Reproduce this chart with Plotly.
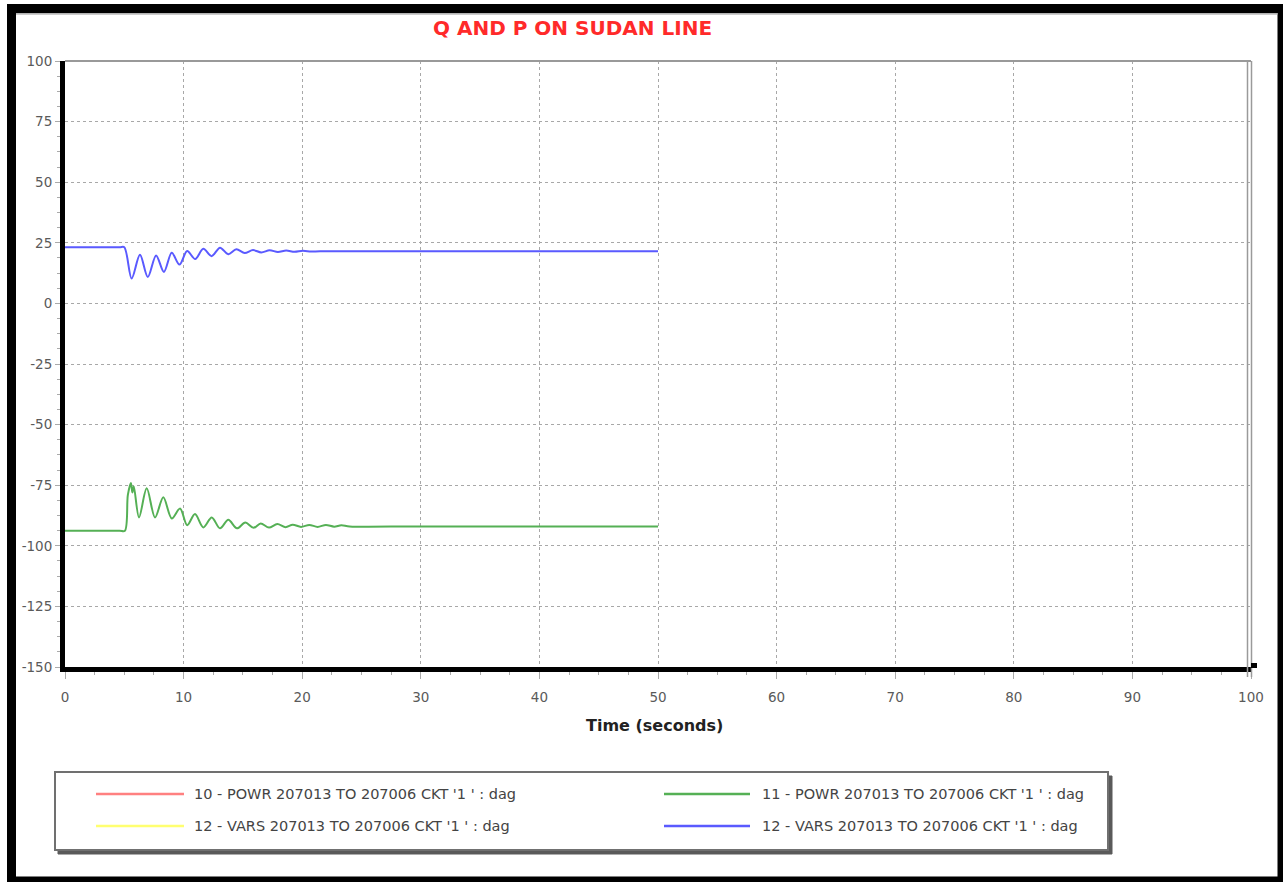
import plotly.graph_objects as go

# ---------------- data ----------------
vars_t = [0, 4.6, 5.0, 5.62, 6.32, 6.98, 7.68, 8.34, 9.0, 9.65, 10.3, 10.98, 11.66,
          12.36, 13.07, 13.76, 14.45, 15.15, 15.85, 16.55, 17.25, 17.95, 18.65,
          19.35, 20.05, 20.75, 21.5, 30, 50]
vars_v = [23.2, 23.2, 23.2, 10.3, 20.1, 10.9, 19.8, 13.0, 20.9, 16.0, 21.6, 18.3, 22.5,
          19.5, 23.0, 20.3, 22.3, 20.8, 22.0, 21.0, 21.9, 21.2, 21.8,
          21.3, 21.7, 21.4, 21.5, 21.5, 21.5]

powr_t = [0, 4.6, 5.05, 5.3, 5.56, 5.68, 5.8, 6.24, 6.89, 7.59, 8.29, 9.0, 9.7, 10.3,
          10.96, 11.66, 12.37, 13.07, 13.77, 14.5, 15.2, 15.9, 16.5, 17.2, 17.9,
          18.6, 19.2, 19.9, 20.6, 21.3, 22.0, 22.7, 23.3, 24.0, 30, 50]
powr_v = [-93.8, -93.8, -93.8, -79.0, -74.1, -78.0, -75.5, -88.3, -76.3, -88.3, -80.0,
          -88.7, -84.6, -91.5, -86.9, -92.4, -88.3, -92.8, -89.3, -92.8, -90.4,
          -92.6, -90.8, -92.5, -91.0, -92.3, -91.3, -92.2, -91.4, -92.2, -91.4,
          -92.1, -91.5, -92.0, -92.0, -92.0]

y_ticks = [100, 75, 50, 25, 0, -25, -50, -75, -100, -125, -150]
y_tick_labels = ["100", "75", "50", "25", "0", "-25", "-50", "-75", "-100", "-125", "-150"]
x_ticks = [0, 10, 20, 30, 40, 50, 60, 70, 80, 90, 100]
x_tick_labels = ["0", "10", "20", "30", "40", "50", "60", "70", "80", "90", "100"]

legend_names = ["10 - POWR 207013 TO 207006 CKT '1 ' : dag",
                "11 - POWR 207013 TO 207006 CKT '1 ' : dag",
                "12 - VARS 207013 TO 207006 CKT '1 ' : dag",
                "12 - VARS 207013 TO 207006 CKT '1 ' : dag"]
legend_colors = ["#ff8080", "#55b055", "#ffff70", "#5a5aff"]

title_text = "Q AND P ON SUDAN LINE"
x_title = "Time (seconds)"

# ---------------- layout helpers ----------------
W, H = 1283, 882
L, R, T, B = 65, 32, 61, 215
PW, PH = W - L - R, H - T - B


def xp(px):
    return (px - L) / PW


def yp(py):
    return (H - B - py) / PH


FONT = "DejaVu Sans, Liberation Sans, Arial"

fig = go.Figure()
fig.add_trace(go.Scatter(x=powr_t, y=powr_v, mode="lines",
                         line=dict(color=legend_colors[1], width=2, shape="spline", smoothing=0.9),
                         name=legend_names[1], hoverinfo="skip"))
fig.add_trace(go.Scatter(x=vars_t, y=vars_v, mode="lines",
                         line=dict(color=legend_colors[3], width=2, shape="spline", smoothing=0.9),
                         name=legend_names[3], hoverinfo="skip"))

shapes = []
# outer black frame
shapes.append(dict(type="rect", xref="paper", yref="paper",
                   x0=xp(11.5), x1=xp(1282), y0=yp(881), y1=yp(8.4),
                   line=dict(color="black", width=9), fillcolor="rgba(0,0,0,0)", layer="above"))
# thin gray line under top frame
shapes.append(dict(type="line", xref="paper", yref="paper",
                   x0=xp(16), x1=xp(1278), y0=yp(13.8), y1=yp(13.8),
                   line=dict(color="#9a9a9a", width=1.2), layer="above"))
# plot top border
shapes.append(dict(type="line", xref="paper", yref="paper",
                   x0=0, x1=1, y0=1, y1=1, line=dict(color="#999999", width=2), layer="above"))
# plot right double border
for px in (1247.5, 1251.5):
    shapes.append(dict(type="line", xref="paper", yref="paper",
                       x0=xp(px), x1=xp(px), y0=yp(677), y1=1,
                       line=dict(color="#9a9a9a", width=1.5), layer="above"))
# extension of x axis line
shapes.append(dict(type="line", xref="paper", yref="paper",
                   x0=1, x1=xp(1257), y0=yp(665.5), y1=yp(665.5),
                   line=dict(color="black", width=5), layer="above"))
# legend box shadow + box
shapes.append(dict(type="rect", xref="paper", yref="paper",
                   x0=xp(58), x1=xp(1112), y0=yp(854), y1=yp(776),
                   line=dict(color="#5a5a5a", width=1), fillcolor="#5a5a5a", layer="above"))
shapes.append(dict(type="rect", xref="paper", yref="paper",
                   x0=xp(55), x1=xp(1108), y0=yp(850), y1=yp(772),
                   line=dict(color="#707070", width=2), fillcolor="white", layer="above"))

annotations = []
leg_pos = [(96, 184, 192, 794), (664, 750, 760, 794), (96, 184, 192, 826), (664, 750, 760, 826)]
for (lx0, lx1, tx, ly), name, col in zip(leg_pos, legend_names, legend_colors):
    shapes.append(dict(type="line", xref="paper", yref="paper",
                       x0=xp(lx0), x1=xp(lx1), y0=yp(ly), y1=yp(ly),
                       line=dict(color=col, width=2.5), layer="above"))
    annotations.append(dict(xref="paper", yref="paper", x=xp(tx), y=yp(ly),
                            xanchor="left", yanchor="middle", showarrow=False,
                            text=name, font=dict(family=FONT, size=14.5, color="#444444")))

annotations.append(dict(xref="paper", yref="paper", x=xp(572.5), y=yp(28),
                        xanchor="center", yanchor="middle", showarrow=False,
                        text="<b>" + title_text + "</b>",
                        font=dict(family=FONT, size=20, color="#ff2a2a")))
annotations.append(dict(xref="paper", yref="paper", x=xp(654), y=yp(725),
                        xanchor="center", yanchor="middle", showarrow=False,
                        text="<b>" + x_title + "</b>",
                        font=dict(family=FONT, size=16, color="#222222")))

fig.update_layout(
    width=W, height=H,
    margin=dict(l=L, r=R, t=T, b=B, autoexpand=False),
    paper_bgcolor="white", plot_bgcolor="white",
    showlegend=False,
    shapes=shapes, annotations=annotations,
    xaxis=dict(range=[0, 100], tickvals=x_ticks, ticktext=x_tick_labels,
               showline=True, linecolor="black", linewidth=5,
               ticks="outside", ticklen=7, tickcolor="#aaaaaa", tickwidth=1,
               ticklabelstandoff=7,
               tickfont=dict(family=FONT, size=13.5, color="#5a5a5a"),
               showgrid=True, gridcolor="#a8a8a8", gridwidth=1, griddash="3px,3px",
               zeroline=False,
               minor=dict(dtick=2.5, tick0=0, ticks="outside", ticklen=3,
                          tickcolor="#aaaaaa", showgrid=False)),
    yaxis=dict(range=[-150, 100], tickvals=y_ticks, ticktext=y_tick_labels,
               showline=True, linecolor="black", linewidth=5,
               ticks="outside", ticklen=5, tickcolor="#aaaaaa", tickwidth=1,
               ticklabelstandoff=0,
               tickfont=dict(family=FONT, size=13.5, color="#5a5a5a"),
               showgrid=True, gridcolor="#a8a8a8", gridwidth=1, griddash="3px,3px",
               zeroline=False,
               minor=dict(dtick=6.25, tick0=0, ticks="outside", ticklen=3,
                          tickcolor="#aaaaaa", showgrid=False)),
)

fig.write_html("out.html",
               config={"displayModeBar": False},
               post_script="document.body.style.margin='0';document.body.style.overflow='hidden';")
